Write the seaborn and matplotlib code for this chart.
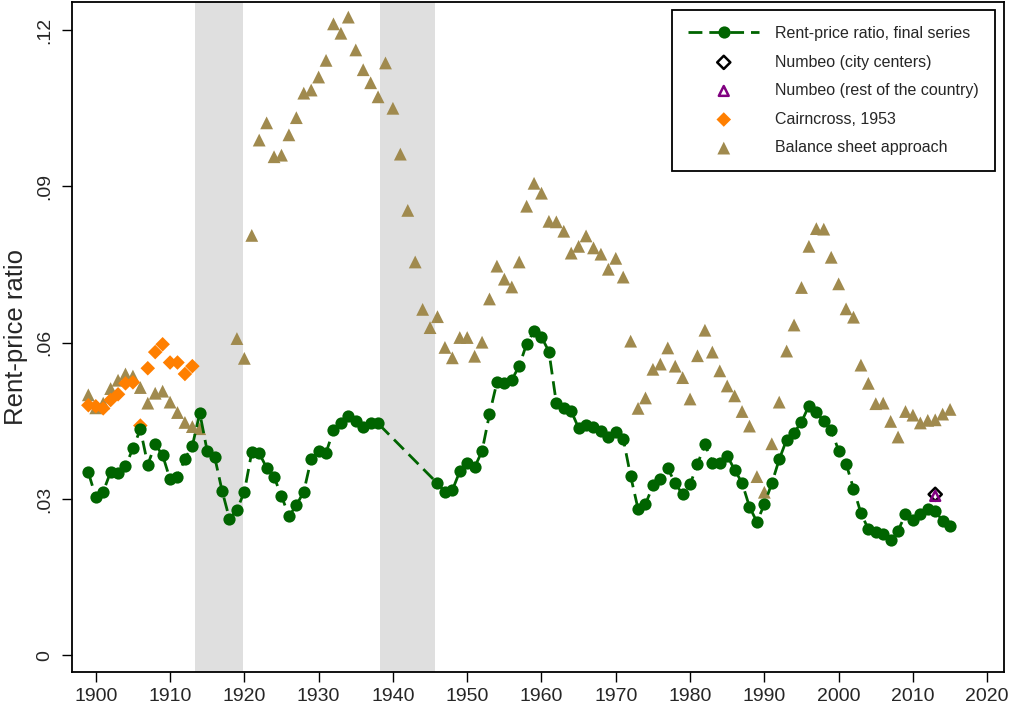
import numpy as np
import pandas as pd
import matplotlib
matplotlib.use("Agg")
import matplotlib.pyplot as plt
import seaborn as sns

# ---- data -------------------------------------------------------------
final_years = list(range(1899, 1939)) + list(range(1946, 2016))
final_ratio = [
    .0351, .0304, .0314, .0352, .0350, .0363, .0397, .0434, .0366, .0405,
    .0384, .0338, .0343, .0377, .0402, .0465, .0392, .0381, .0316, .0262,
    .0279, .0314, .0390, .0388, .0360, .0342, .0306, .0267, .0288, .0314,
    .0377, .0393, .0389, .0432, .0446, .0460, .0449, .0438, .0446, .0445,
    .0330, .0314, .0317, .0353, .0369, .0361, .0392, .0463, .0524, .0523,
    .0529, .0555, .0598, .0622, .0611, .0583, .0484, .0475, .0469, .0436,
    .0442, .0439, .0430, .0420, .0429, .0416, .0344, .0281, .0290, .0326,
    .0339, .0359, .0330, .0309, .0328, .0367, .0405, .0370, .0370, .0383,
    .0356, .0331, .0285, .0256, .0290, .0330, .0376, .0414, .0427, .0448,
    .0479, .0467, .0449, .0432, .0393, .0368, .0320, .0273, .0242, .0237,
    .0233, .0222, .0239, .0271, .0260, .0272, .0281, .0277, .0258, .0248,
]

balance_years = list(range(1899, 1915)) + list(range(1919, 2016))
balance_ratio = [
    .0500, .0475, .0484, .0512, .0528, .0540, .0536, .0514, .0484, .0503,
    .0507, .0486, .0466, .0447, .0439, .0435,
    .0608, .0570, .0806, .0989, .1022, .0957, .0960, .0999, .1032, .1079,
    .1085, .1110, .1142, .1212, .1194, .1225, .1162, .1124, .1099, .1072,
    .1137, .1050, .0962, .0854, .0755, .0664, .0629, .0650, .0591, .0571,
    .0610, .0610, .0574, .0601, .0684, .0747, .0722, .0707, .0755, .0862,
    .0906, .0887, .0833, .0832, .0814, .0772, .0785, .0805, .0782, .0770,
    .0741, .0762, .0726, .0603, .0474, .0494, .0549, .0559, .0590, .0555,
    .0533, .0492, .0575, .0624, .0582, .0546, .0517, .0498, .0468, .0440,
    .0343, .0313, .0406, .0486, .0584, .0634, .0706, .0785, .0819, .0818,
    .0764, .0713, .0665, .0649, .0557, .0522, .0483, .0484, .0449, .0419,
    .0468, .0461, .0446, .0451, .0452, .0463, .0472,
]

cairncross_years = list(range(1899, 1914))
cairncross_ratio = [.0480, .0478, .0474, .0490, .0501, .0522, .0524, .0441,
                    .0551, .0582, .0597, .0562, .0562, .0540, .0555]

numbeo_center_years = [2013]
numbeo_center_ratio = [.0309]
numbeo_rest_years = [2013]
numbeo_rest_ratio = [.0306]

war_periods = [(1913.3, 1919.8), (1938.3, 1945.7)]

x_ticks = list(range(1900, 2021, 10))
y_ticks = [0, .03, .06, .09, .12]
y_ticklabels = ["0", ".03", ".06", ".09", ".12"]

# ---- styling ----------------------------------------------------------
sns.set_theme(style="white")
plt.rcParams["font.family"] = ["Liberation Sans", "DejaVu Sans"]

GREEN = "#006400"
ORANGE = "#FF7F00"
SAND = "#A08A4E"
PURPLE = "#800080"

fig = plt.figure(figsize=(10.11, 7.08), dpi=100)
ax = fig.add_axes([72 / 1011, 1 - 672.3 / 708, (1004.3 - 72) / 1011, (672.3 - 2) / 708])

for start, end in war_periods:
    ax.axvspan(start, end, color="#DFDFDF", lw=0, zorder=0)

df_final = pd.DataFrame({"year": final_years, "ratio": final_ratio})
df_bal = pd.DataFrame({"year": balance_years, "ratio": balance_ratio})
df_cc = pd.DataFrame({"year": cairncross_years, "ratio": cairncross_ratio})
df_nc = pd.DataFrame({"year": numbeo_center_years, "ratio": numbeo_center_ratio})
df_nr = pd.DataFrame({"year": numbeo_rest_years, "ratio": numbeo_rest_ratio})

sns.scatterplot(data=df_bal, x="year", y="ratio", ax=ax, marker="^", s=85,
                color=SAND, edgecolor="none", linewidth=0, zorder=3,
                label="Balance sheet approach")
sns.scatterplot(data=df_cc, x="year", y="ratio", ax=ax, marker="D", s=55,
                color=ORANGE, edgecolor="none", linewidth=0, zorder=4,
                label="Cairncross, 1953")
sns.lineplot(data=df_final, x="year", y="ratio", ax=ax, color=GREEN,
             lw=2.0, ls=(0, (5, 2.5)), marker="o", markersize=8.8,
             markeredgewidth=0, markerfacecolor=GREEN, zorder=5,
             errorbar=None, label="Rent-price ratio, final series")
sns.scatterplot(data=df_nc, x="year", y="ratio", ax=ax, marker="D", s=45,
                facecolor="none", edgecolor="black", linewidth=1.8, zorder=6,
                label="Numbeo (city centers)")
sns.scatterplot(data=df_nr, x="year", y="ratio", ax=ax, marker="^", s=50,
                facecolor="none", edgecolor=PURPLE, linewidth=1.8, zorder=7,
                label="Numbeo (rest of the country)")

ax.set_xlim(1896.8, 2022.3)
ax.set_ylim(-0.00326, 0.1254)
ax.set_xticks(x_ticks)
ax.set_yticks(y_ticks)
ax.set_yticklabels(y_ticklabels, rotation=90, va="center")
ax.tick_params(axis="both", which="major", labelsize=14, length=7.5,
               width=1.0, color="black", direction="out")
ax.tick_params(axis="x", pad=4)
ax.tick_params(axis="y", pad=6)
ax.tick_params(bottom=True, left=True)
for sp in ax.spines.values():
    sp.set_color("black")
    sp.set_linewidth(1.3)
ax.set_xlabel("")
ax.set_ylabel("Rent-price ratio", fontsize=18.5, labelpad=6)
ax.grid(False)

handles, labels = ax.get_legend_handles_labels()
order = ["Rent-price ratio, final series", "Numbeo (city centers)",
         "Numbeo (rest of the country)", "Cairncross, 1953",
         "Balance sheet approach"]
hmap = dict(zip(labels, handles))
leg = ax.legend([hmap[k] for k in order], order, loc="upper right",
                bbox_to_anchor=(995 / 1011, 1 - 10 / 708),
                bbox_transform=fig.transFigure, borderaxespad=0,
                fontsize=11.5, frameon=True, fancybox=False,
                edgecolor="black", framealpha=1, handlelength=4.45,
                handletextpad=1.0, labelspacing=0.85, borderpad=1.0,
                scatterpoints=1)
leg.get_frame().set_linewidth(1.3)

fig.savefig("out.png", dpi=100, facecolor="white")
